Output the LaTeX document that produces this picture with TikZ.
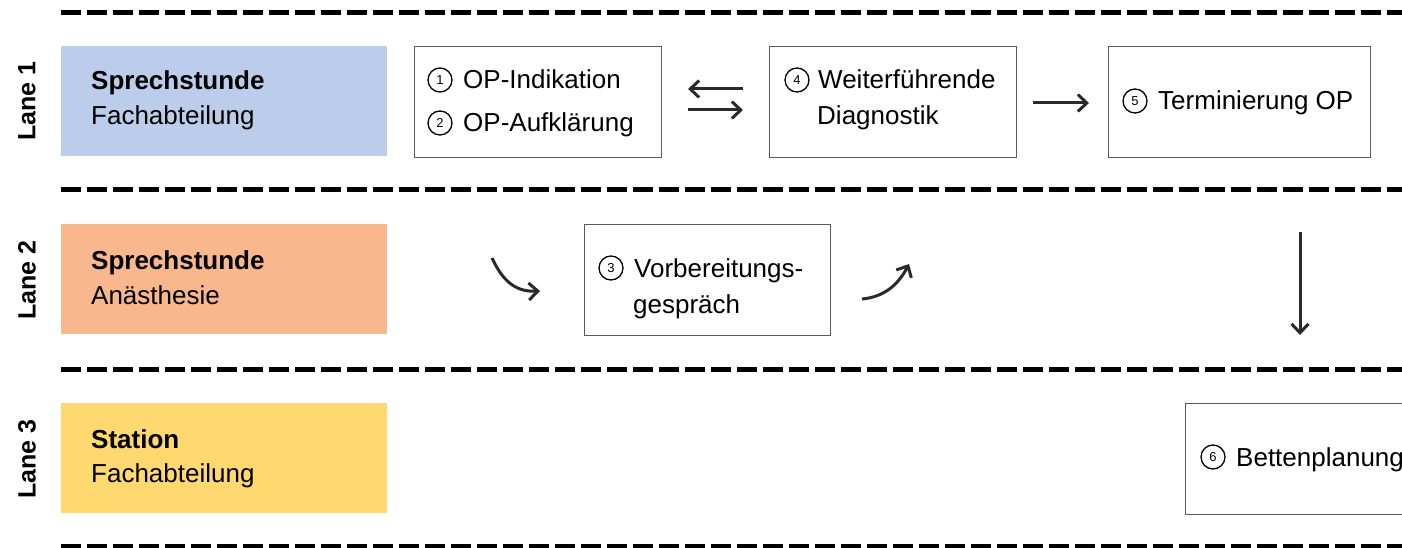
\documentclass[tikz,border=0pt]{standalone}
\usepackage{fontspec}
\setmainfont{Liberation Sans}
\usetikzlibrary{arrows.meta}
\definecolor{laneblue}{HTML}{BCCDEC}
\definecolor{laneorange}{HTML}{F9B78D}
\definecolor{laneyellow}{HTML}{FFD86F}
\definecolor{arrgray}{HTML}{2A2A2A}
\definecolor{boxgray}{HTML}{5A5A5A}
\begin{document}
\begin{tikzpicture}[x=1pt,y=-1pt,
  lanesep/.style={line width=5pt, dash pattern=on 20pt off 6pt},
  lanebox/.style={anchor=north west, minimum width=326pt, minimum height=110pt, inner sep=0pt, draw=none},
  stepbox/.style={anchor=north west, draw=boxgray, line width=1.3pt, minimum height=111pt, inner sep=0pt},
  txt/.style={anchor=base west, inner sep=0pt, font=\fontsize{26}{31}\selectfont},
  btxt/.style={txt, font=\fontsize{26}{31}\selectfont\bfseries},
  lanelbl/.style={rotate=90, inner sep=0pt, font=\fontsize{25}{30}\selectfont\bfseries},
  cnum/.style={circle, draw=black, line width=1.3pt, minimum size=24pt, inner sep=0pt, font=\fontsize{13}{13}\selectfont},
  arr/.style={draw=arrgray, line width=3pt, -{Straight Barb[length=9pt,width=17pt,line width=3pt]}}
]
\useasboundingbox (0,0) rectangle (1402,548);
\clip (0,0) rectangle (1402,548);

% lane separators
\coordinate (s1a) at (61,13);  \coordinate (s1b) at (1402,13);
\coordinate (s2a) at (61,190); \coordinate (s2b) at (1402,190);
\coordinate (s3a) at (61,369); \coordinate (s3b) at (1402,369);
\coordinate (s4a) at (61,546); \coordinate (s4b) at (1402,546);
\draw[lanesep] (s1a) -- (s1b);
\draw[lanesep] (s2a) -- (s2b);
\draw[lanesep] (s3a) -- (s3b);
\draw[lanesep] (s4a) -- (s4b);

% lane labels
\node[lanelbl] (l1) at (27,101) {Lane 1};
\node[lanelbl] (l2) at (27,280) {Lane 2};
\node[lanelbl] (l3) at (27,459) {Lane 3};

% lane boxes
\node[lanebox, fill=laneblue] (lb1) at (61,46) {};
\node[lanebox, fill=laneorange] (lb2) at (61,224) {};
\node[lanebox, fill=laneyellow] (lb3) at (61,403) {};
\node[btxt] (lb1t) at (91,90) {Sprechstunde};
\node[txt] (lb1s) at (91,125) {Fachabteilung};
\node[btxt] (lb2t) at (91,269) {Sprechstunde};
\node[txt] (lb2s) at (91,304) {Anästhesie};
\node[btxt] (lb3t) at (91,448) {Station};
\node[txt] (lb3s) at (91,482) {Fachabteilung};

% step boxes
\node[stepbox, minimum width=247pt] (b1) at (414,46) {};
\node[stepbox, minimum width=247pt] (b4) at (769,46) {};
\node[stepbox, minimum width=262pt] (b5) at (1108,46) {};
\node[stepbox, minimum width=246pt] (b3) at (584,224) {};
\node[stepbox, minimum width=260pt] (b6) at (1185,403) {};

% box 1
\node[cnum] (n1) at (440,80) {1};
\node[txt] (t1) at (463,89) {OP-Indikation};
\node[cnum] (n2) at (440,123) {2};
\node[txt] (t2) at (463,132) {OP-Aufklärung};
% box 4
\node[cnum] (n4) at (797,80) {4};
\node[txt] (t4a) at (818,89) {Weiterführende};
\node[txt] (t4b) at (817,125) {Diagnostik};
% box 5
\node[cnum] (n5) at (1135,101) {5};
\node[txt] (t5) at (1158,110) {Terminierung OP};
% box 3
\node[cnum] (n3) at (611,268) {3};
\node[txt] (t3a) at (634,277) {Vorbereitungs-};
\node[txt] (t3b) at (633,313) {gespräch};
% box 6
\node[cnum] (n6) at (1213,457) {6};
\node[txt] (t6) at (1236,466) {Bettenplanung};

% arrows
\coordinate (a1s) at (743,89);  \coordinate (a1e) at (688,89);
\coordinate (a2s) at (688,110); \coordinate (a2e) at (743,110);
\coordinate (a3s) at (1033,103); \coordinate (a3e) at (1089,103);
\coordinate (c1s) at (492,258); \coordinate (c1e) at (540,291);
\coordinate (c2s) at (862,299); \coordinate (c2e) at (909,264);
\coordinate (vs) at (1300,232); \coordinate (ve) at (1300,335);
\draw[arr] (a1s) -- (a1e);
\draw[arr] (a2s) -- (a2e);
\draw[arr] (a3s) -- (a3e);
\draw[arr] (c1s) .. controls (504,284) and (518,292) .. (c1e);
\draw[arr] (c2s) .. controls (884,297) and (898,285) .. (c2e);
\draw[arr] (vs) -- (ve);
\end{tikzpicture}
\end{document}
